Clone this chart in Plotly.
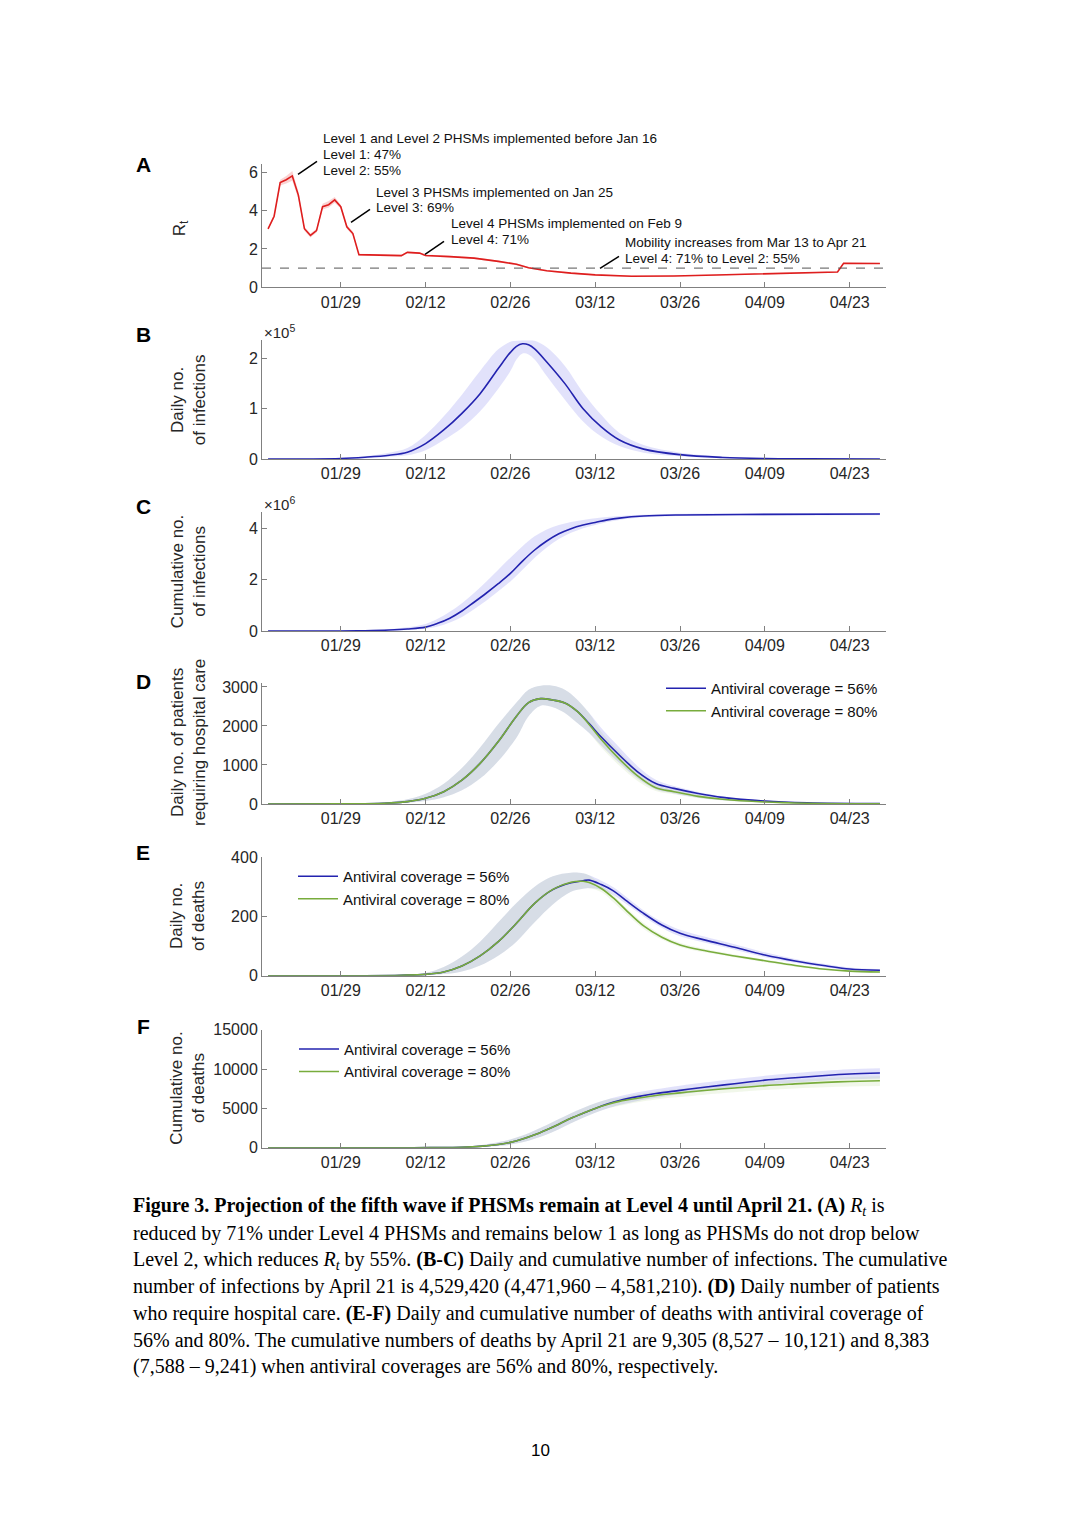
import plotly.graph_objects as go

W, H = 1080, 1528

# ---------------- data ----------------
tick_dates = ['2022-01-29', '2022-02-12', '2022-02-26', '2022-03-12',
              '2022-03-26', '2022-04-09', '2022-04-23']
tick_labels = ['01/29', '02/12', '02/26', '03/12', '03/26', '04/09', '04/23']
x_range = ['2022-01-16', '2022-04-29']

# Panel A: effective reproduction number
rt_dates = ['2022-01-17', '2022-01-18', '2022-01-19', '2022-01-20', '2022-01-21',
            '2022-01-22', '2022-01-23', '2022-01-24', '2022-01-25', '2022-01-26',
            '2022-01-27', '2022-01-28', '2022-01-29', '2022-01-30', '2022-01-31',
            '2022-02-01', '2022-02-08', '2022-02-09', '2022-02-11', '2022-02-12',
            '2022-02-16', '2022-02-20', '2022-02-24', '2022-02-27', '2022-03-01',
            '2022-03-04', '2022-03-08', '2022-03-12', '2022-03-18', '2022-03-25',
            '2022-04-01', '2022-04-08', '2022-04-15', '2022-04-21', '2022-04-22',
            '2022-04-28']
rt_mid = [3.04, 3.7, 5.45, 5.6, 5.8, 4.8, 3.05, 2.7, 2.95, 4.2, 4.3, 4.55, 4.2, 3.15,
          2.8, 1.7, 1.65, 1.82, 1.78, 1.66, 1.6, 1.52, 1.35, 1.2, 1.02, 0.86, 0.74,
          0.65, 0.58, 0.59, 0.64, 0.7, 0.76, 0.8, 1.25, 1.24]
rt_hi = [3.1, 3.8, 5.6, 5.8, 6.05, 5.0, 3.15, 2.8, 3.05, 4.35, 4.5, 4.7, 4.3, 3.25,
         2.9, 1.75, 1.7, 1.87, 1.83, 1.71, 1.65, 1.57, 1.4, 1.25, 1.06, 0.9, 0.78,
         0.68, 0.61, 0.62, 0.67, 0.73, 0.79, 0.83, 1.28, 1.27]
rt_lo = [2.98, 3.6, 5.3, 5.4, 5.55, 4.6, 2.95, 2.6, 2.85, 4.05, 4.15, 4.4, 4.1, 3.05,
         2.7, 1.65, 1.6, 1.77, 1.73, 1.61, 1.55, 1.47, 1.3, 1.15, 0.98, 0.82, 0.7,
         0.62, 0.55, 0.56, 0.61, 0.67, 0.73, 0.77, 1.22, 1.21]
rt_threshold = 1

# Panel B: daily infections
inf_dates = ['2022-01-17', '2022-01-29', '2022-02-02', '2022-02-06', '2022-02-09',
             '2022-02-12', '2022-02-15', '2022-02-18', '2022-02-21', '2022-02-24',
             '2022-02-26', '2022-02-27', '2022-02-28', '2022-03-01', '2022-03-02',
             '2022-03-04', '2022-03-07', '2022-03-10', '2022-03-13', '2022-03-16',
             '2022-03-20', '2022-03-26', '2022-04-02', '2022-04-09', '2022-04-16',
             '2022-04-28']
inf_daily = [300, 1500, 4000, 8000, 14000, 31000, 58000, 91000, 130000, 180000,
             212000, 224000, 229000, 227000, 219000, 193000, 150000, 100000, 64000,
             38000, 20000, 9000, 3500, 1300, 600, 300]
inf_daily_hi = [500, 2500, 6000, 13000, 22000, 48000, 85000, 128000, 175000, 218000,
                233000, 235000, 236000, 236000, 235000, 222000, 185000, 132000, 88000,
                52000, 28000, 13000, 5500, 2000, 900, 400]
inf_daily_lo = [100, 800, 2000, 5000, 8000, 18000, 38000, 62000, 95000, 140000,
                175000, 198000, 210000, 208000, 198000, 165000, 118000, 75000, 45000,
                26000, 13000, 6000, 2300, 800, 350, 150]

# Panel C: cumulative infections
cum_dates = ['2022-01-17', '2022-01-29', '2022-02-02', '2022-02-06', '2022-02-09',
             '2022-02-12', '2022-02-14', '2022-02-16', '2022-02-18', '2022-02-20',
             '2022-02-22', '2022-02-24', '2022-02-26', '2022-02-28', '2022-03-02',
             '2022-03-04', '2022-03-06', '2022-03-08', '2022-03-10', '2022-03-12',
             '2022-03-14', '2022-03-16', '2022-03-20', '2022-03-26', '2022-04-05',
             '2022-04-28']
cum_inf = [1000, 6000, 15000, 40000, 80000, 155000, 300000, 500000, 780000, 1120000,
           1470000, 1840000, 2240000, 2720000, 3150000, 3500000, 3780000, 3980000,
           4120000, 4220000, 4320000, 4390000, 4470000, 4510000, 4530000, 4550000]
cum_inf_hi = [2000, 12000, 30000, 80000, 150000, 280000, 480000, 750000, 1080000,
              1480000, 1920000, 2380000, 2850000, 3300000, 3680000, 3950000, 4120000,
              4240000, 4320000, 4380000, 4430000, 4470000, 4520000, 4560000, 4570000,
              4580000]
cum_inf_lo = [500, 3000, 8000, 20000, 45000, 90000, 180000, 330000, 550000, 850000,
              1180000, 1550000, 1930000, 2380000, 2850000, 3250000, 3580000, 3820000,
              4000000, 4120000, 4240000, 4320000, 4420000, 4470000, 4490000, 4500000]

# Panel D: daily patients requiring hospital care
hosp_dates = ['2022-01-17', '2022-01-29', '2022-02-02', '2022-02-06', '2022-02-09',
              '2022-02-12', '2022-02-15', '2022-02-18', '2022-02-21', '2022-02-24',
              '2022-02-27', '2022-03-01', '2022-03-03', '2022-03-05', '2022-03-07',
              '2022-03-09', '2022-03-11', '2022-03-13', '2022-03-16', '2022-03-19',
              '2022-03-22', '2022-03-25', '2022-03-29', '2022-04-02', '2022-04-09',
              '2022-04-16', '2022-04-28']
hosp_56 = [0, 2, 6, 25, 60, 145, 315, 610, 1040, 1600, 2250, 2600, 2700, 2665, 2590,
           2380, 2060, 1715, 1250, 825, 525, 400, 270, 170, 75, 30, 8]
hosp_80 = [0, 2, 6, 25, 60, 145, 315, 610, 1040, 1600, 2250, 2600, 2700, 2665, 2590,
           2380, 2040, 1655, 1150, 720, 415, 315, 195, 120, 50, 20, 5]
hosp_56_hi = [1, 5, 15, 50, 120, 260, 520, 920, 1450, 2050, 2600, 2930, 3030, 3030,
              2930, 2680, 2330, 1950, 1450, 970, 620, 460, 310, 200, 90, 40, 12]
hosp_56_lo = [0, 0, 2, 10, 30, 75, 170, 350, 650, 1100, 1700, 2250, 2520, 2480, 2330,
              2080, 1820, 1500, 1050, 650, 370, 270, 160, 95, 35, 12, 3]
hosp_80_hi = [1, 5, 15, 50, 120, 260, 520, 920, 1450, 2050, 2600, 2930, 3030, 3030,
              2930, 2680, 2330, 1850, 1330, 860, 500, 370, 240, 150, 65, 28, 8]
hosp_80_lo = [0, 0, 2, 10, 30, 75, 170, 350, 650, 1100, 1700, 2250, 2520, 2480, 2330,
              2080, 1820, 1450, 980, 590, 330, 250, 150, 90, 33, 11, 2]

# Panel E: daily deaths
death_dates = ['2022-01-17', '2022-02-02', '2022-02-08', '2022-02-12', '2022-02-15',
               '2022-02-18', '2022-02-21', '2022-02-24', '2022-02-27', '2022-03-02',
               '2022-03-05', '2022-03-08', '2022-03-10', '2022-03-11', '2022-03-13',
               '2022-03-15', '2022-03-17', '2022-03-20', '2022-03-23', '2022-03-26',
               '2022-03-30', '2022-04-04', '2022-04-09', '2022-04-14', '2022-04-19',
               '2022-04-23', '2022-04-28']
death_56 = [0, 0.5, 2, 5, 13, 33, 67, 115, 177, 244, 290, 313, 320, 322, 307, 286,
            255, 210, 171, 143, 121, 96, 70, 50, 34, 23, 19]
death_80 = [0, 0.5, 2, 5, 13, 33, 67, 115, 177, 244, 291, 315, 318, 314, 294, 262,
            223, 168, 130, 104, 85, 67, 51, 35, 22, 16, 13]
death_56_hi = [0, 1, 4, 10, 30, 65, 115, 180, 245, 300, 335, 347, 345, 338, 320, 298,
               268, 220, 182, 155, 132, 106, 79, 57, 40, 28, 22]
death_56_lo = [0, 0, 1, 2, 6, 15, 35, 68, 115, 180, 240, 283, 293, 295, 290, 272,
               243, 200, 162, 133, 112, 88, 63, 44, 29, 19, 15]
death_80_hi = [0, 1, 4, 10, 30, 65, 115, 180, 245, 300, 335, 347, 345, 338, 305, 272,
               232, 178, 138, 111, 91, 72, 55, 39, 25, 19, 15]
death_80_lo = [0, 0, 1, 2, 6, 15, 35, 68, 115, 180, 240, 283, 293, 295, 282, 248,
               210, 158, 122, 97, 79, 62, 46, 31, 19, 13, 10]

# Panel F: cumulative deaths
cumd_dates = ['2022-01-17', '2022-02-10', '2022-02-14', '2022-02-18', '2022-02-21',
              '2022-02-24', '2022-02-26', '2022-02-28', '2022-03-02', '2022-03-04',
              '2022-03-06', '2022-03-08', '2022-03-10', '2022-03-12', '2022-03-14',
              '2022-03-16', '2022-03-19', '2022-03-22', '2022-03-26', '2022-03-30',
              '2022-04-04', '2022-04-09', '2022-04-14', '2022-04-19', '2022-04-23',
              '2022-04-28']
cumd_56 = [0, 5, 20, 70, 180, 420, 680, 1100, 1650, 2300, 3000, 3750, 4400, 5000,
           5550, 6000, 6500, 6900, 7300, 7700, 8150, 8600, 8900, 9200, 9380, 9500]
cumd_80 = [0, 5, 20, 70, 180, 420, 680, 1100, 1650, 2300, 3000, 3750, 4400, 5000,
           5500, 5900, 6300, 6650, 6980, 7280, 7600, 7900, 8120, 8320, 8430, 8520]
cumd_56_hi = [0, 10, 40, 130, 320, 700, 1050, 1550, 2200, 2900, 3650, 4400, 5050,
              5650, 6150, 6550, 7050, 7450, 7900, 8300, 8750, 9150, 9500, 9800, 9980,
              10120]
cumd_56_lo = [0, 2, 5, 30, 90, 230, 400, 700, 1150, 1700, 2350, 3100, 3800, 4450,
              5000, 5450, 5950, 6350, 6800, 7200, 7650, 8000, 8300, 8550, 8700, 8800]
cumd_80_hi = [0, 10, 40, 130, 320, 700, 1050, 1550, 2200, 2900, 3650, 4400, 5050,
              5650, 6150, 6350, 6800, 7150, 7500, 7800, 8100, 8400, 8650, 8850, 9000,
              9100]
cumd_80_lo = [0, 2, 5, 30, 90, 230, 400, 700, 1150, 1700, 2350, 3100, 3800, 4450,
              5000, 5350, 5800, 6150, 6450, 6750, 7050, 7350, 7550, 7700, 7800, 7850]

legend_labels = ['Antiviral coverage = 56%', 'Antiviral coverage = 80%']

# ---------------- styling ----------------
SANS = 'Liberation Sans, Arial, sans-serif'
SERIF = 'Liberation Serif, Times New Roman, serif'
TXT = '#262626'
AX = '#808080'
RED = 'rgb(222,30,30)'
RED_BAND = 'rgba(240,110,110,0.30)'
BLUE = 'rgb(35,35,175)'
BLUE_BAND = 'rgba(60,60,225,0.15)'
GREEN = 'rgb(120,172,60)'
GREEN_BAND = 'rgba(119,172,48,0.10)'

# page-pixel -> paper mapping (vertical span measured from the rendered page)
Y0, YS = 7.5, 1512.0


def px(x):
    return x / W


def py(y):
    return 1 - (y - Y0) / YS


fig = go.Figure()

# panels: (top pixel, bottom pixel, y range, tick values, tick text)
panels = [
    (164, 287, [0, 6.4], [0, 2, 4, 6], ['0', '2', '4', '6']),
    (340, 459, [0, 2.36e5], [0, 1e5, 2e5], ['0', '1', '2']),
    (512, 631, [0, 4.62e6], [0, 2e6, 4e6], ['0', '2', '4']),
    (683, 804, [0, 3100], [0, 1000, 2000, 3000], ['0', '1000', '2000', '3000']),
    (857, 976, [0, 400], [0, 200, 400], ['0', '200', '400']),
    (1030, 1148, [0, 15000], [0, 5000, 10000, 15000], ['0', '5000', '10000', '15000']),
]

layout_axes = {}
for i, (top, bot, yr, tv, tt) in enumerate(panels, start=1):
    sfx = '' if i == 1 else str(i)
    layout_axes['xaxis' + sfx] = dict(
        domain=[px(262), px(886)], range=x_range, anchor='y' + sfx,
        tickvals=tick_dates, ticktext=tick_labels, ticks='inside', ticklen=5,
        tickcolor=AX, showline=True, linecolor=AX, linewidth=1, showgrid=False,
        zeroline=False, tickfont=dict(family=SANS, size=16, color=TXT))
    layout_axes['yaxis' + sfx] = dict(
        domain=[py(bot), py(top)], range=yr, anchor='x' + sfx,
        tickvals=tv, ticktext=tt, ticks='inside', ticklen=5, tickcolor=AX,
        showline=True, linecolor=AX, linewidth=1, showgrid=False, zeroline=False,
        tickfont=dict(family=SANS, size=16, color=TXT))


def band(xs, lo, hi, color, ax):
    xa, ya = ('x', 'y') if ax == 1 else ('x%d' % ax, 'y%d' % ax)
    fig.add_trace(go.Scatter(x=xs, y=lo, mode='lines', line=dict(width=0, shape='spline'),
                             xaxis=xa, yaxis=ya, showlegend=False, hoverinfo='skip'))
    fig.add_trace(go.Scatter(x=xs, y=hi, mode='lines', line=dict(width=0, shape='spline'),
                             fill='tonexty', fillcolor=color, xaxis=xa, yaxis=ya,
                             showlegend=False, hoverinfo='skip'))


def line(xs, ys, color, ax, name=None, legend=None, shape='spline'):
    xa, ya = ('x', 'y') if ax == 1 else ('x%d' % ax, 'y%d' % ax)
    fig.add_trace(go.Scatter(x=xs, y=ys, mode='lines', name=name,
                             line=dict(color=color, width=1.6, shape=shape),
                             xaxis=xa, yaxis=ya, showlegend=name is not None,
                             legend=legend))


# Panel A
fig.add_trace(go.Scatter(x=rt_dates, y=rt_lo, mode='lines', line=dict(width=0),
                         showlegend=False, hoverinfo='skip'))
fig.add_trace(go.Scatter(x=rt_dates, y=rt_hi, mode='lines', line=dict(width=0),
                         fill='tonexty', fillcolor=RED_BAND, showlegend=False,
                         hoverinfo='skip'))
fig.add_shape(type='line', xref='x domain', yref='y', x0=0, x1=1, y0=rt_threshold,
              y1=rt_threshold, line=dict(color='#555555', width=1, dash='dash'))
line(rt_dates, rt_mid, RED, 1, shape='linear')

# Panel B
band(inf_dates, inf_daily_lo, inf_daily_hi, BLUE_BAND, 2)
line(inf_dates, inf_daily, BLUE, 2)

# Panel C
band(cum_dates, cum_inf_lo, cum_inf_hi, BLUE_BAND, 3)
line(cum_dates, cum_inf, BLUE, 3)

# Panel D
band(hosp_dates, hosp_56_lo, hosp_56_hi, BLUE_BAND, 4)
band(hosp_dates, hosp_80_lo, hosp_80_hi, GREEN_BAND, 4)
line(hosp_dates, hosp_56, BLUE, 4, legend_labels[0], 'legend')
line(hosp_dates, hosp_80, GREEN, 4, legend_labels[1], 'legend')

# Panel E
band(death_dates, death_56_lo, death_56_hi, BLUE_BAND, 5)
band(death_dates, death_80_lo, death_80_hi, GREEN_BAND, 5)
line(death_dates, death_56, BLUE, 5, legend_labels[0], 'legend2')
line(death_dates, death_80, GREEN, 5, legend_labels[1], 'legend2')

# Panel F
band(cumd_dates, cumd_56_lo, cumd_56_hi, BLUE_BAND, 6)
band(cumd_dates, cumd_80_lo, cumd_80_hi, GREEN_BAND, 6)
line(cumd_dates, cumd_56, BLUE, 6, legend_labels[0], 'legend3')
line(cumd_dates, cumd_80, GREEN, 6, legend_labels[1], 'legend3')

annotations = []


def text(x, y, s, size=13.5, family=SANS, color='#111111', xanchor='left',
         yanchor='middle', angle=0, align='left'):
    annotations.append(dict(x=px(x), y=py(y), xref='paper', yref='paper', text=s,
                            showarrow=False, xanchor=xanchor, yanchor=yanchor,
                            textangle=angle, align=align,
                            font=dict(family=family, size=size, color=color)))


# panel letters
for letter, yy in zip('ABCDEF', [164, 334, 506, 681, 853, 1027]):
    text(143, yy, '<b>%s</b>' % letter, size=21, xanchor='center', color='#000000')

# y titles
text(181, 228, 'R<sub>t</sub>', size=17, xanchor='center', angle=-90, color=TXT)
text(188, 400, 'Daily no.<br>of infections', size=17, xanchor='center', angle=-90,
     color=TXT, align='center')
text(188, 572, 'Cumulative no.<br>of infections', size=17, xanchor='center', angle=-90,
     color=TXT, align='center')
text(188, 743, 'Daily no. of patients<br>requiring hospital care', size=17,
     xanchor='center', angle=-90, color=TXT, align='center')
text(188, 916, 'Daily no.<br>of deaths', size=17, xanchor='center', angle=-90,
     color=TXT, align='center')
text(188, 1089, 'Cumulative no.<br>of deaths', size=17, xanchor='center', angle=-90,
     color=TXT, align='center')

# exponent labels
text(262, 331, '×10<sup>5</sup>', size=15, color=TXT)
text(262, 503, '×10<sup>6</sup>', size=15, color=TXT)

# panel A annotations
text(321, 138, 'Level 1 and Level 2 PHSMs implemented before Jan 16')
text(321, 154, 'Level 1: 47%')
text(321, 170, 'Level 2: 55%')
text(374, 192, 'Level 3 PHSMs implemented on Jan 25')
text(374, 207, 'Level 3: 69%')
text(449, 223, 'Level 4 PHSMs implemented on Feb 9')
text(449, 239, 'Level 4: 71%')
text(623, 242, 'Mobility increases from Mar 13 to Apr 21')
text(623, 258, 'Level 4: 71% to Level 2: 55%')

for (x0, y0, x1, y1) in [(298, 174, 317, 161), (351, 222, 370, 209),
                         (425, 254, 444, 241), (600, 268, 619, 256)]:
    fig.add_shape(type='line', xref='paper', yref='paper', x0=px(x0), y0=py(y0),
                  x1=px(x1), y1=py(y1), line=dict(color='#000000', width=1.5))

# caption
caption = [
    '<b>Figure 3. Projection of the fifth wave if PHSMs remain at Level 4 until April 21. (A)</b> <i>R<sub>t</sub></i> is',
    'reduced by 71% under Level 4 PHSMs and remains below 1 as long as PHSMs do not drop below',
    'Level 2, which reduces <i>R<sub>t</sub></i> by 55%. <b>(B-C)</b> Daily and cumulative number of infections. The cumulative',
    'number of infections by April 21 is 4,529,420 (4,471,960 – 4,581,210). <b>(D)</b> Daily number of patients',
    'who require hospital care. <b>(E-F)</b> Daily and cumulative number of deaths with antiviral coverage of',
    '56% and 80%. The cumulative numbers of deaths by April 21 are 9,305 (8,527 – 10,121) and 8,383',
    '(7,588 – 9,241) when antiviral coverages are 56% and 80%, respectively.',
]
for k, s in enumerate(caption):
    text(131, 1207 + k * 26.7, s, size=20, family=SERIF, color='#000000')

text(540, 1451, '10', size=17, xanchor='center', color='#000000')

leg_common = dict(bgcolor='rgba(0,0,0,0)', borderwidth=0, xanchor='left', yanchor='top',
                  font=dict(family=SANS, size=15, color='#111111'), tracegroupgap=0,
                  itemwidth=40, traceorder='normal')

fig.update_layout(
    width=W, height=H, margin=dict(l=0, r=0, t=0, b=0),
    paper_bgcolor='white', plot_bgcolor='rgba(0,0,0,0)',
    font=dict(family=SANS, color=TXT),
    annotations=annotations,
    legend=dict(x=px(661), y=py(672), **leg_common),
    legend2=dict(x=px(293), y=py(860), **leg_common),
    legend3=dict(x=px(294), y=py(1033), **leg_common),
    **layout_axes,
)

fig.write_html('out.html', config={'displayModeBar': False},
               post_script="document.body.style.margin='0';"
                           "document.body.style.overflow='hidden';")
